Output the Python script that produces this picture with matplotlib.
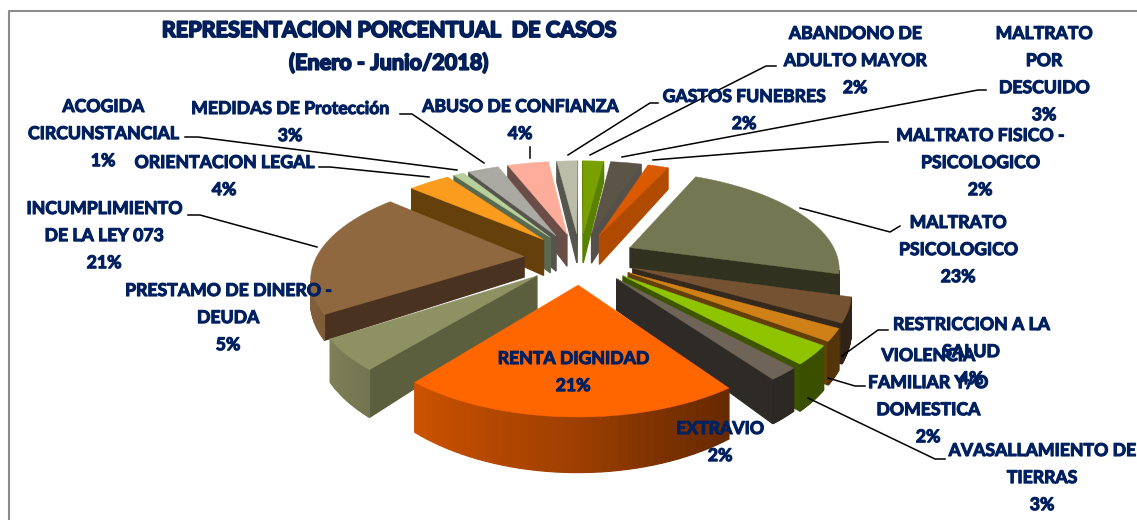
#!/usr/bin/env python3
"""Exploded 3D-style pie of case shares, Jan-Jun 2018."""
import matplotlib
matplotlib.use("Agg")
import matplotlib.patheffects as pe
import matplotlib.pyplot as plt
import numpy as np

# clockwise, starting just left of 12 o'clock
categories = [
    "GASTOS FUNEBRES", "ABANDONO DE\nADULTO MAYOR", "MALTRATO\nPOR\nDESCUIDO",
    "MALTRATO FISICO -\nPSICOLOGICO", "MALTRATO\nPSICOLOGICO", "RESTRICCION A LA\nSALUD",
    "VIOLENCIA\nFAMILIAR Y/O\nDOMESTICA", "AVASALLAMIENTO DE\nTIERRAS", "EXTRAVIO",
    "RENTA DIGNIDAD", "PRESTAMO DE DINERO -\nDEUDA", "INCUMPLIMIENTO\nDE LA LEY 073",
    "ORIENTACION LEGAL", "ACOGIDA\nCIRCUNSTANCIAL", "MEDIDAS DE Protección", "ABUSO DE CONFIANZA",
]
values = [2, 2, 3, 2, 23, 4, 2, 3, 2, 21, 5, 21, 4, 1, 3, 4]

top_colors = [
    "#bcbda8", "#7aa000", "#5c5446", "#d95a00", "#737752", "#755232", "#cf8118", "#90c400",
    "#6e6558", "#ff6600", "#8e9263", "#8f6840", "#fb9c1f", "#b8d09a", "#aaa9a2", "#ffad9b",
]
side_colors = [
    "#55564e", "#5a8000", "#55504a", "#b04a00", "#30321f", "#35291b", "#633f0a", "#3e5500",
    "#2e2a25", "#662a00", "#5c5f3e", "#4a3220", "#66400a", "#5a6a50", "#55544f", "#6b4d47",
]
wall_scale = [1, 1, 1, 1, 0.65, 1, 1, 1, 0.9, 1, 1, 0.65, 1.2, 1.2, 1.2, 1.1]

# label centre (x, y of first line), leader polyline in pixels
label_pos = [
    (744, 96), (855, 33), (1044, 33), (980, 135), (958, 222), (971, 324), (928, 355),
    (1042, 450), (720, 428), (573, 358), (228, 290), (104, 208), (224, 162), (103, 106),
    (290, 108), (520, 106),
]
leaders = [
    ([658, 650, 568], [103, 103, 155]), ([776, 766, 590], [66, 66, 155]),
    ([986, 978, 622], [90, 90, 157]), ([888, 878, 653], [142, 142, 160]),
    ([900, 890, 800], [226, 232, 208]), ([888, 878, 842], [330, 330, 356]),
    ([865, 855, 828], [386, 386, 378]), ([945, 935, 808], [459, 459, 398]),
    ([], []), ([], []), ([], []),
    ([188, 200, 317], [215, 215, 247]), ([319, 330, 429], [167, 167, 177]),
    ([185, 198, 457], [137, 137, 170]), ([400, 412, 484], [114, 114, 163]),
    ([530, 530], [147, 158]),
]

TEXT_COLOR = "#002060"
CX, CY = 580.0, 258.0
A, B = 208.0, 95.0   # horizontal / depth scale of the unit pie
K = 0.19             # perspective strength
EXPLODE = 0.27
WALL = 32.0


def project(u, v):
    w = 1 + K * v
    return CX + A * u / w, CY - B * v / w, w


def shade(color, f):
    rgb = np.array(matplotlib.colors.to_rgb(color))
    return tuple(rgb * f)


def draw_slice(ax, t0, t1, top, side, scale):
    mid = (t0 + t1) / 2
    eu, ev = EXPLODE * np.sin(mid), EXPLODE * np.cos(mid)
    ts = np.linspace(t0, t1, 40)
    us = np.r_[eu, eu + np.sin(ts)]
    vs = np.r_[ev, ev + np.cos(ts)]
    x, y, w = project(us, vs)
    drop = WALL * scale / w**2
    yb = y + drop

    # walls, far ones first; the arc gets shaded by bearing
    faces = []
    n = len(x)
    for i in range(n):
        j = (i + 1) % n
        qx = [x[i], x[j], x[j], x[i]]
        qy = [y[i], y[j], yb[j], yb[i]]
        area = sum(qx[a] * qy[(a + 1) % 4] - qx[(a + 1) % 4] * qy[a] for a in range(4))
        if area >= 0:
            continue
        if i == 0 or j == 0:
            col = side
        else:
            bearing = np.degrees((ts[i - 1] + ts[j - 1]) / 2) % 360
            f = np.interp(bearing, [90, 145, 165, 180, 218, 240, 270, 360],
                          [0.42, 0.4, 0.5, 0.62, 0.8, 0.9, 0.95, 0.95])
            col = shade(top, f)
        faces.append(((vs[i] + vs[j]) / 2, qx, qy, col))
    for _, qx, qy, col in sorted(faces, key=lambda f: -f[0]):
        ax.fill(qx, qy, color=col, lw=0.9)
    ax.fill(x, y, color=top, lw=0.3)


fig = plt.figure(figsize=(11.37, 5.2), dpi=100)
ax = fig.add_axes([0, 0, 1, 1])
ax.set_xlim(0, 1137)
ax.set_ylim(520, 0)
ax.axis("off")

plt.rcParams["font.family"] = ["Lato", "DejaVu Sans"]

# outer chart frame
ax.plot([8.5, 8.5, 1140], [525, 10.5, 10.5], color="#8c8c8c", lw=1.5)

edges = np.cumsum(np.r_[0, values]) / sum(values) * 2 * np.pi - np.radians(7)
mids = (edges[:-1] + edges[1:]) / 2
order = np.argsort(-np.cos(mids))   # far slices drawn first
for i in order:
    draw_slice(ax, edges[i], edges[i + 1], top_colors[i], side_colors[i], wall_scale[i])

for xs, ys in leaders:
    if xs:
        ax.plot(xs, ys, color="black", lw=1.1, solid_joinstyle="round")

label_fx = [pe.withStroke(linewidth=0.8, foreground=TEXT_COLOR)]
for name, val, (lx, ly) in zip(categories, values, label_pos):
    ax.text(lx, ly - 8, f"{name}\n{val}%", ha="center", va="top", fontsize=12.7,
            fontweight="bold", color=TEXT_COLOR, linespacing=1.72, path_effects=label_fx)

ax.text(389, 20, "REPRESENTACION PORCENTUAL  DE CASOS\n(Enero - Junio/2018)", ha="center", va="top",
        fontsize=15.6, fontweight="bold", color=TEXT_COLOR, linespacing=1.62,
        path_effects=[pe.withStroke(linewidth=1.3, foreground="#001a4d")])

fig.savefig("out.png", dpi=100)
